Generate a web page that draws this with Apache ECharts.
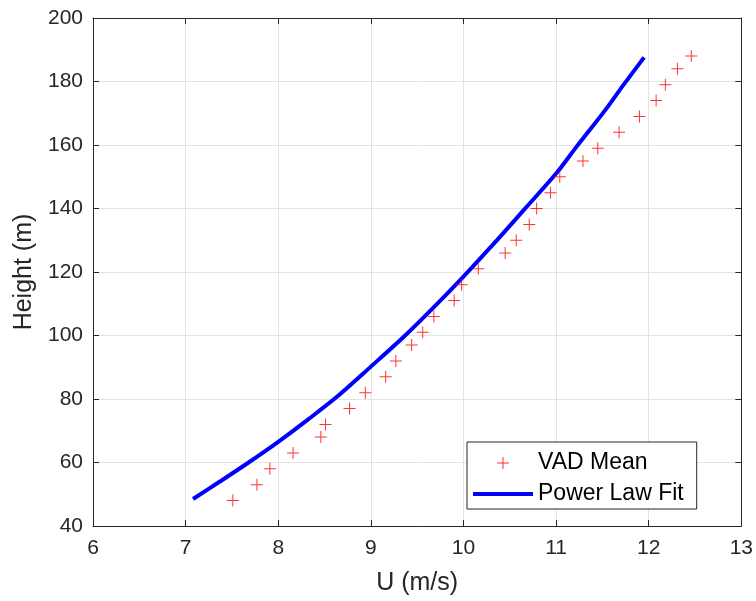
<!DOCTYPE html>
<html>
<head>
<meta charset="utf-8">
<script src="https://cdn.jsdelivr.net/npm/echarts@6/dist/echarts.min.js"></script>
<style>html,body{margin:0;padding:0;background:#fff}#c{width:756px;height:601px}</style>
</head>
<body>
<div id="c"></div>
<script>
// VAD Mean observations: wind speed U (m/s) and height (m)
var vadU = [7.51, 7.77, 7.91, 8.16, 8.46, 8.51, 8.77, 8.94, 9.16, 9.27, 9.44, 9.56, 9.68, 9.90, 9.98, 10.16, 10.45, 10.57, 10.71, 10.79, 10.94, 11.04, 11.29, 11.45, 11.68, 11.90, 12.08, 12.18, 12.31, 12.46];
var vadH = [48, 53, 58, 63, 68, 72, 77, 82, 87, 92, 97, 101, 106, 111, 116, 121, 126, 130, 135, 140, 145, 150, 155, 159, 164, 169, 174, 179, 184, 188];
// Power law fit curve
var fitU = [7.08, 7.37, 7.66, 8.00, 8.32, 8.63, 9.00, 9.37, 9.75, 10.02, 10.33, 10.66, 11.00, 11.23, 11.52, 11.73, 11.95];
var fitH = [48.5, 54, 59.6, 66.5, 73.5, 80.6, 90.2, 100, 111, 119.2, 129, 139.8, 151, 159.8, 170.6, 179, 187.6];
var xTicks = [6, 7, 8, 9, 10, 11, 12, 13];
var yTicks = [40, 60, 80, 100, 120, 140, 160, 180, 200];

var vadData = vadU.map(function (u, i) { return [u, vadH[i]]; });
var fitData = fitU.map(function (u, i) { return [u, fitH[i]]; });

var FONT = 'Liberation Sans, Arial, sans-serif';
var AX = '#262626';
var plus = 'path://M5.5,0H6.5V12H5.5Z M0,5.5H12V6.5H0Z';

var chart = echarts.init(document.getElementById('c'));
function baseX(pos, show) {
  return {
    type: 'value', position: pos, min: xTicks[0], max: xTicks[xTicks.length - 1], interval: 1,
    axisLine: { show: true, onZero: false, lineStyle: { color: AX, width: 1 } },
    axisTick: { show: true, inside: true, length: 6, lineStyle: { color: AX } },
    axisLabel: { show: show, color: AX, fontSize: 21, fontFamily: FONT, margin: 12 },
    splitLine: { show: show, lineStyle: { color: '#e3e3e3', width: 1 } }
  };
}
function baseY(pos, show) {
  return {
    type: 'value', position: pos, min: yTicks[0], max: yTicks[yTicks.length - 1], interval: 20,
    axisLine: { show: true, onZero: false, lineStyle: { color: AX, width: 1 } },
    axisTick: { show: true, inside: true, length: 6, lineStyle: { color: AX } },
    axisLabel: { show: show, color: AX, fontSize: 21, fontFamily: FONT, margin: 10 },
    splitLine: { show: show, lineStyle: { color: '#e3e3e3', width: 1 } }
  };
}
var x0 = baseX('bottom', true);
x0.name = 'U (m/s)'; x0.nameLocation = 'middle'; x0.nameGap = 45;
x0.nameTextStyle = { color: AX, fontSize: 25, fontFamily: FONT };
var y0 = baseY('left', true);
y0.name = 'Height (m)'; y0.nameLocation = 'middle'; y0.nameGap = 54;
y0.nameTextStyle = { color: AX, fontSize: 25, fontFamily: FONT };

chart.setOption({
  animation: false,
  backgroundColor: '#fff',
  grid: { left: 93, right: 12, top: 18, bottom: 74 },
  xAxis: [x0, baseX('top', false)],
  yAxis: [y0, baseY('right', false)],
  legend: {
    orient: 'vertical', left: 467, top: 442,
    backgroundColor: '#fff', borderColor: AX, borderWidth: 1,
    padding: [9, 13, 3, 6], itemGap: 7, itemWidth: 60, itemHeight: 12,
    symbolKeepAspect: true,
    textStyle: { color: '#000', fontSize: 23, fontFamily: FONT, lineHeight: 24 },
    data: [
      { name: 'VAD Mean', icon: plus, itemStyle: { color: '#ff0000' } },
      { name: 'Power Law Fit', icon: 'path://M0,0H60V4H0Z', itemStyle: { color: '#0000ff' } }
    ]
  },
  series: [
    {
      name: 'VAD Mean', type: 'scatter', data: vadData,
      symbol: plus, symbolSize: 12, itemStyle: { color: '#ff0000' }, z: 3
    },
    {
      name: 'Power Law Fit', type: 'line', data: fitData, smooth: 0.3,
      showSymbol: false, symbol: 'none',
      lineStyle: { color: '#0000ff', width: 4 }, itemStyle: { color: '#0000ff' }, z: 2
    }
  ]
});
</script>
</body>
</html>
